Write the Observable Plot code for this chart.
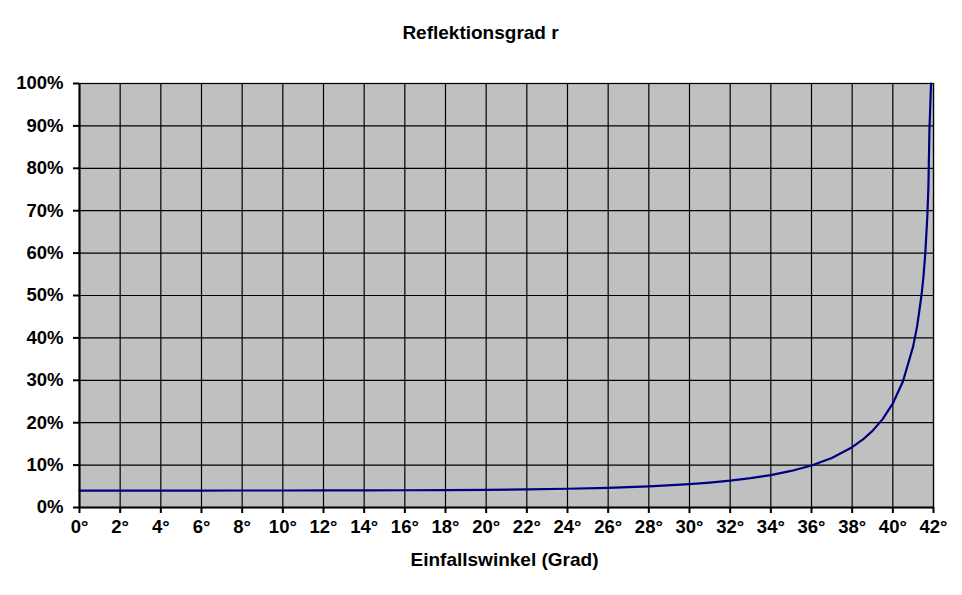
<!DOCTYPE html>
<html>
<head>
<meta charset="utf-8">
<script src="https://cdn.jsdelivr.net/npm/d3@7"></script>
<script src="https://cdn.jsdelivr.net/npm/@observablehq/plot@0.6"></script>
<style>
  html, body { margin: 0; padding: 0; background: #fff; }
</style>
</head>
<body>
<div id="chart"></div>
<script>
const title = "Reflektionsgrad r";
const xLabel = "Einfallswinkel (Grad)";
const xTicks = [0,2,4,6,8,10,12,14,16,18,20,22,24,26,28,30,32,34,36,38,40,42];
const yTicks = [0,10,20,30,40,50,60,70,80,90,100];
const angles = [0,2,4,6,8,10,12,14,16,18,20,22,24,26,28,30,31,32,33,34,35,36,37,38,38.5,39,39.5,40,40.5,41,41.2,41.4,41.5,41.6,41.7,41.75,41.8,41.88];
const reflect = [4.00,4.00,4.00,4.00,4.01,4.01,4.02,4.04,4.07,4.11,4.17,4.27,4.42,4.65,5.00,5.52,5.88,6.33,6.91,7.65,8.62,9.91,11.68,14.23,15.93,18.07,20.85,24.54,29.77,38.0,42.9,49.7,54.1,60.2,69.0,75.8,89.1,100];

const data = angles.map((a, i) => ({angle: a, r: reflect[i]}));

const chart = Plot.plot({
  width: 962,
  height: 595,
  marginLeft: 79,
  marginRight: 29,
  marginTop: 83,
  marginBottom: 88,
  style: {fontFamily: "Arial, 'Liberation Sans', sans-serif", fontWeight: "bold", fontSize: "18px", color: "#000", background: "#fff", overflow: "visible"},
  x: {domain: [0, 42]},
  y: {domain: [0, 100]},
  marks: [
    Plot.frame({fill: "#c0c0c0", stroke: "#808080", strokeWidth: 1.5}),
    Plot.gridX(xTicks, {stroke: "#000", strokeOpacity: 1, strokeWidth: 1.2}),
    Plot.gridY(yTicks, {stroke: "#000", strokeOpacity: 1, strokeWidth: 1.2}),
    Plot.line(data, {x: "angle", y: "r", stroke: "#000080", strokeWidth: 2.2}),
    Plot.ruleX([0], {stroke: "#000", strokeWidth: 2}),
    Plot.ruleY([0], {stroke: "#000", strokeWidth: 2}),
    Plot.axisX(xTicks, {tickFormat: d => d + "°", tickSize: 6, tickPadding: 6, strokeWidth: 2, fontSize: 18.5, fontWeight: "bold", label: null}),
    Plot.axisY(yTicks, {tickFormat: d => d + "%", tickSize: 6, tickPadding: 10, strokeWidth: 2, fontSize: 18.5, fontWeight: "bold", label: null}),
    Plot.text([title], {frameAnchor: "top", dy: -58, dx: -26, fontSize: 19, fontWeight: "bold", fill: "#000"}),
    Plot.text([xLabel], {frameAnchor: "bottom", dy: 58, dx: -2, fontSize: 19, fontWeight: "bold", fill: "#000"})
  ]
});
document.getElementById("chart").appendChild(chart);
</script>
</body>
</html>
